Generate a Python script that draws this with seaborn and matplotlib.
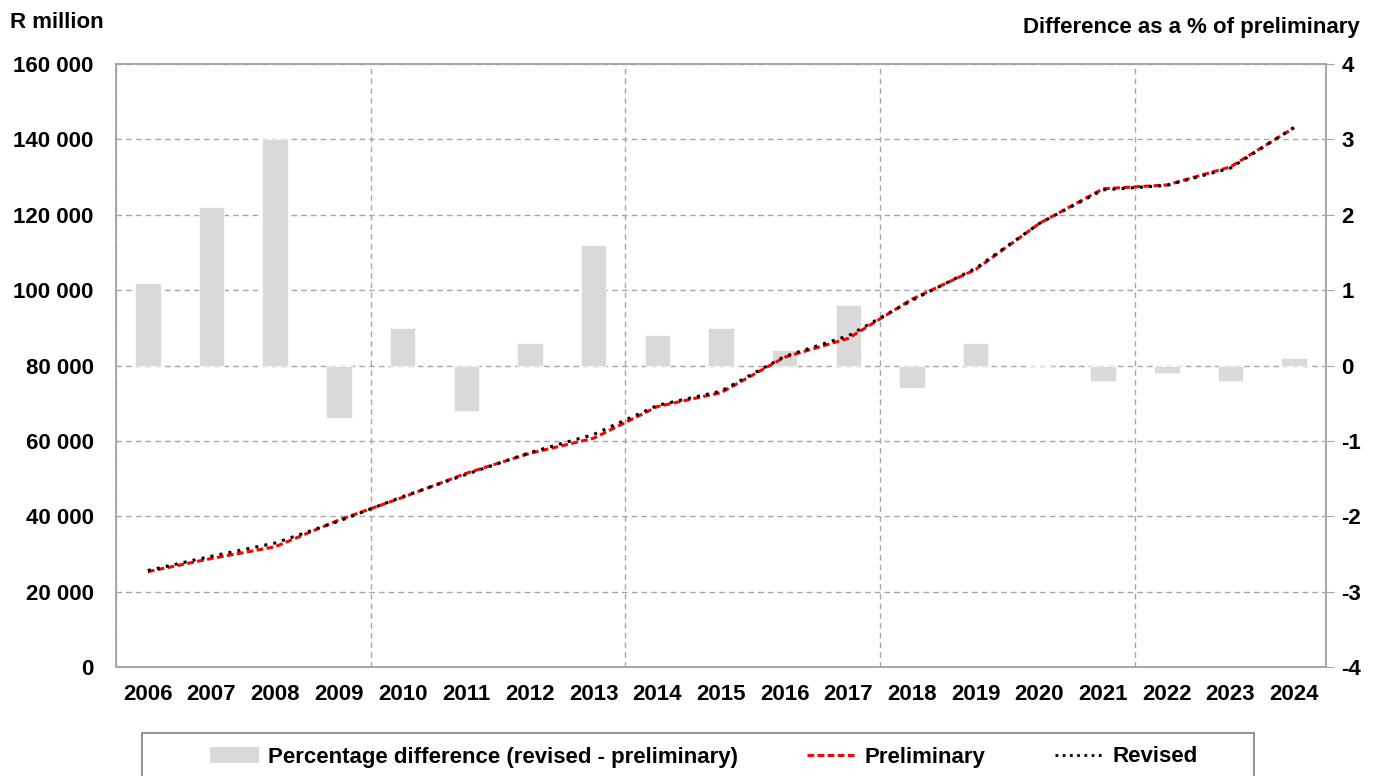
import matplotlib
matplotlib.use("Agg")
import matplotlib.pyplot as plt
from matplotlib.patches import Patch, Rectangle
from matplotlib.lines import Line2D
from matplotlib.ticker import FixedLocator, FuncFormatter
import numpy as np
import pandas as pd
import seaborn as sns

years = [str(y) for y in range(2006, 2025)]
pct_diff = [1.1, 2.1, 3.0, -0.7, 0.5, -0.6, 0.3, 1.6, 0.4, 0.5, 0.2, 0.8,
            -0.3, 0.3, 0.0, -0.2, -0.1, -0.2, 0.1]
preliminary = [25300, 28800, 31900, 39000, 45000, 51400, 56700, 60700, 69100,
               72800, 82200, 87200, 97600, 105500, 117700, 126900, 127900,
               132700, 143100]
revised = [25600, 29400, 32900, 38700, 45200, 51100, 56900, 61700, 69400,
           73200, 82400, 87900, 97300, 105800, 117700, 126600, 127800,
           132400, 143200]

left_label = "R million"
right_label = "Difference as a % of preliminary"
legend_labels = ["Percentage difference (revised - preliminary)", "Preliminary", "Revised"]

sns.set_style("white")
plt.rcParams["font.family"] = ["Liberation Sans", "DejaVu Sans"]
plt.rcParams["font.weight"] = "bold"
plt.rcParams["axes.unicode_minus"] = False
plt.rcParams["text.color"] = "black"
plt.rcParams["xtick.color"] = "black"
plt.rcParams["ytick.color"] = "black"
FS = 16
GRID = "#a6a6a6"

df = pd.DataFrame({"year": years, "pct": pct_diff, "pos": np.arange(len(years)),
                   "prelim": preliminary, "rev": revised})

fig = plt.figure(figsize=(13.78, 7.76), dpi=100)
ax = fig.add_axes([116 / 1378, 1 - 667 / 776, 1210 / 1378, 603 / 776])

sns.barplot(data=df, x="year", y="pct", ax=ax, color="#d9d9d9", saturation=1,
            width=0.4, errorbar=None, edgecolor="white", linewidth=0.5, zorder=2)
ax.set_ylim(-4, 4)
ax.set_xlim(-0.5, len(years) - 0.5)
ax.set_yticks(range(-4, 5))
ax.set_xlabel("")
ax.set_ylabel("")

ax2 = ax.twinx()
sns.lineplot(data=df, x="pos", y="prelim", ax=ax2, color="#ff0000", lw=2.2,
             linestyle=(0, (2.2, 1.1)), zorder=3)
sns.lineplot(data=df, x="pos", y="rev", ax=ax2, color="black", lw=2.2,
             linestyle=(0, (1.0, 2.0)), zorder=4)
ax2.set_ylim(0, 160000)
ax2.set_yticks(range(0, 160001, 20000))
ax2.yaxis.set_major_formatter(FuncFormatter(lambda v, p: f"{int(v):,}".replace(",", " ")))
ax2.set_xlabel("")
ax2.set_ylabel("")
ax2.set_xlim(-0.5, len(years) - 0.5)

# axis sides
ax.yaxis.tick_right()
ax2.yaxis.tick_left()
ax.tick_params(axis="y", which="major", right=True, left=False, labelright=True,
               labelleft=False, length=6, direction="out", pad=5, color=GRID,
               labelsize=FS, labelcolor="black")
ax2.tick_params(axis="y", which="major", left=True, right=False, labelleft=True,
                labelright=False, length=0, pad=16, labelsize=FS, labelcolor="black")
for t in ax.get_yticklabels() + ax2.get_yticklabels():
    t.set_fontweight("bold")

# x axis
ax.set_xticks(range(len(years)))
ax.set_xticklabels(years, fontsize=FS, fontweight="bold", color="black")
ax.xaxis.set_minor_locator(FixedLocator([-0.5, 3.5, 7.5, 11.5, 15.5]))
ax.tick_params(axis="x", which="major", length=0, pad=12)
ax.tick_params(axis="x", which="minor", length=6, direction="out", color=GRID, width=1)

# grids
ax.set_axisbelow(True)
ax.grid(axis="y", which="major", color=GRID, linestyle=(0, (4, 3)), lw=1)
ax.grid(axis="x", which="minor", color=GRID, linestyle=(0, (4, 3)), lw=1)
ax.grid(axis="x", which="major", visible=False)

for a in (ax, ax2):
    for s in a.spines.values():
        s.set_visible(True)
        s.set_color(GRID)
        s.set_linewidth(1.2)

fig.text(10 / 1378, 1 - 22 / 776, left_label, fontsize=FS, fontweight="bold",
         ha="left", va="center", color="black")
fig.text(1360 / 1378, 1 - 27 / 776, right_label, fontsize=FS, fontweight="bold",
         ha="right", va="center", color="black")

handles = [Patch(facecolor="#d9d9d9", edgecolor="none"),
           Line2D([], [], color="#ff0000", lw=2.2, linestyle=(0, (2.2, 1.1))),
           Line2D([], [], color="black", lw=2.0, linestyle=(0, (1.0, 1.6)))]
fig.legend(handles, legend_labels, loc="center", bbox_to_anchor=(704 / 1378, 1 - 757 / 776),
           ncol=3, frameon=False, handlelength=2.2, handletextpad=0.4,
           columnspacing=3.1, prop={"size": FS, "weight": "bold"}, labelcolor="black")
fig.add_artist(Rectangle((142 / 1378, -0.05), (1254 - 142) / 1378, 0.05 + (1 - 733 / 776),
                         transform=fig.transFigure, fill=False, edgecolor="#808080", lw=1.2))

fig.savefig("out.png", dpi=100)
